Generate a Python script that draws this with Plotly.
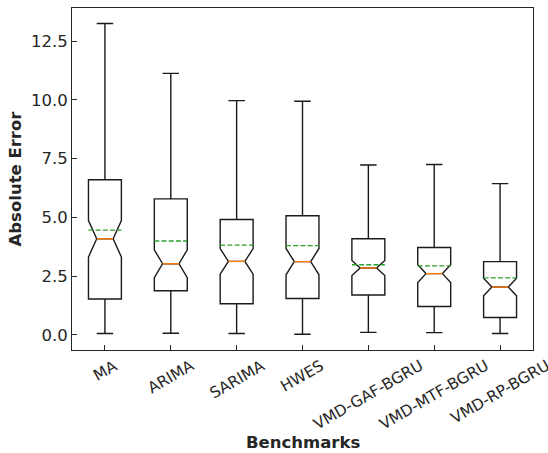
import plotly.graph_objects as go

# ---- data ----
labels = ["MA", "ARIMA", "SARIMA", "HWES", "VMD-GAF-BGRU", "VMD-MTF-BGRU", "VMD-RP-BGRU"]
positions = [1, 2, 3, 4, 5, 6, 7]
whisker_low = [0.06, 0.07, 0.06, 0.03, 0.11, 0.10, 0.06]
q1 = [1.53, 1.88, 1.33, 1.55, 1.70, 1.21, 0.74]
median = [4.09, 3.03, 3.13, 3.12, 2.85, 2.61, 2.04]
q3 = [6.60, 5.79, 4.91, 5.07, 4.09, 3.72, 3.12]
whisker_high = [13.25, 11.13, 9.97, 9.94, 7.23, 7.25, 6.44]
mean = [4.46, 4.00, 3.82, 3.80, 2.99, 2.94, 2.43]
notch_lo = [3.32, 2.44, 2.58, 2.57, 2.48, 2.23, 1.67]
notch_hi = [4.87, 3.63, 3.67, 3.69, 3.12, 2.98, 2.41]
y_tickvals = [0.0, 2.5, 5.0, 7.5, 10.0, 12.5]

# ---- styles ----
BOX_W = 0.5
LW = 1.4
TEXT = "#262626"
FONT = "DejaVu Sans"

notchspan = [(h - l) / 2 for h, l in zip(notch_hi, notch_lo)]

fig = go.Figure()
fig.add_trace(go.Box(
    x=positions, q1=q1, median=median, q3=q3,
    lowerfence=whisker_low, upperfence=whisker_high,
    notched=True, notchspan=notchspan, notchwidth=0.25,
    width=BOX_W, whiskerwidth=0.5,
    line=dict(color="#1a1a1a", width=LW), fillcolor="rgba(0,0,0,0)",
    boxpoints=False, showlegend=False, hoverinfo="skip",
))

# median lines (orange) spanning the notch waist
mx, my = [], []
for p, m in zip(positions, median):
    mx += [p - BOX_W / 4, p + BOX_W / 4, None]
    my += [m, m, None]
fig.add_trace(go.Scatter(x=mx, y=my, mode="lines", line=dict(color="#ff7f0e", width=LW),
                         showlegend=False, hoverinfo="skip"))

# mean lines (green dashed) spanning the full box width
ax_, ay_ = [], []
for p, m in zip(positions, mean):
    ax_ += [p - BOX_W / 2, p + BOX_W / 2, None]
    ay_ += [m, m, None]
fig.add_trace(go.Scatter(x=ax_, y=ay_, mode="lines",
                         line=dict(color="#2ca02c", width=LW, dash="5px,2.2px"),
                         showlegend=False, hoverinfo="skip"))

annotations = []
for p, lab in zip(positions, labels):
    annotations.append(dict(x=p, xref="x", y=0, yref="paper", yshift=-4,
                            text=lab, showarrow=False, textangle=-30,
                            xanchor="center", yanchor="top",
                            font=dict(family=FONT, size=15.5, color=TEXT)))
annotations.append(dict(x=0.5, xref="paper", y=-92 / 342, yref="paper", text="Benchmarks",
                        showarrow=False, xanchor="center", yanchor="middle",
                        font=dict(family=FONT, size=16.5, color=TEXT, weight="bold")))
annotations.append(dict(x=-(72 - 14.5) / 461, xref="paper", y=0.5, yref="paper",
                        text="Absolute Error", showarrow=False, textangle=-90,
                        xanchor="center", yanchor="middle",
                        font=dict(family=FONT, size=16.5, color=TEXT, weight="bold")))

fig.update_layout(
    width=548, height=453,
    margin=dict(l=72, r=15, t=8, b=103),
    paper_bgcolor="white", plot_bgcolor="white",
    annotations=annotations,
    xaxis=dict(range=[0.5, 7.5], tickvals=positions, showticklabels=False,
               ticks="inside", ticklen=5, tickwidth=1.1, tickcolor=TEXT,
               showline=True, mirror=True, linecolor=TEXT, linewidth=1.1,
               showgrid=False, zeroline=False),
    yaxis=dict(range=[-0.64, 13.91], tickvals=y_tickvals,
               ticktext=[f"{v:.1f}" for v in y_tickvals],
               ticks="inside", ticklen=5, tickwidth=1.1, tickcolor=TEXT,
               tickfont=dict(family=FONT, size=16.5, color=TEXT),
               showline=True, mirror=True, linecolor=TEXT, linewidth=1.1,
               showgrid=False, zeroline=False),
)

fig.write_html("out.html")
